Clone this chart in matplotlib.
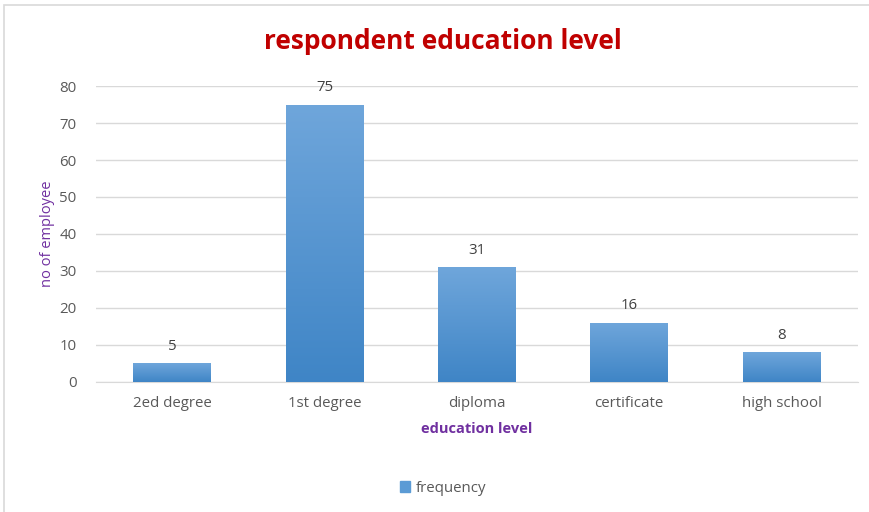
import numpy as np
import matplotlib.pyplot as plt
from matplotlib.patches import Rectangle
from matplotlib.colors import LinearSegmentedColormap

# data
categories = ["2ed degree", "1st degree", "diploma", "certificate", "high school"]
frequency = [5, 75, 31, 16, 8]
yticks = [0, 10, 20, 30, 40, 50, 60, 70, 80]

plt.rcParams['font.family'] = ['Open Sans', 'DejaVu Sans']

fig = plt.figure(figsize=(8.69, 5.12), dpi=100)
ax = fig.add_axes([0.1105, 0.254, 0.8765, 0.578])

x = np.arange(len(categories))
bars = ax.bar(x, frequency, width=0.51, color="#5B9BD5", zorder=2)

# vertical gradient on each bar (lighter on top, like Excel)
grad = np.linspace(0, 1, 256).reshape(-1, 1)
cmap = LinearSegmentedColormap.from_list("blu", ["#3F85C6", "#6FA6DB"])
for b in bars:
    bx, by = b.get_x(), b.get_y()
    w, h = b.get_width(), b.get_height()
    im = ax.imshow(grad, cmap=cmap, aspect="auto", origin="lower",
                   extent=[bx, bx + w, by, by + h], zorder=3)
    im.set_clip_path(b)
    ax.text(b.get_x() + w / 2, h + 2.6, str(int(h)), ha="center", va="bottom",
            fontsize=10.8, color="#404040", zorder=4)

ax.set_xlim(-0.5, len(categories) - 0.5)
ax.set_ylim(0, 80)
ax.set_yticks(yticks)
ax.set_xticks(x)
ax.set_xticklabels(categories)
ax.tick_params(axis="both", length=0, colors="#595959", labelsize=10.8)
ax.tick_params(axis="x", pad=10)
ax.tick_params(axis="y", pad=14)
ax.grid(axis="y", color="#D9D9D9", linewidth=1, zorder=0)
for s in ["top", "right", "left"]:
    ax.spines[s].set_visible(False)
ax.spines["bottom"].set_color("#D9D9D9")
ax.spines["bottom"].set_zorder(1)

ax.set_ylabel("no of employee", color="#7030A0", fontsize=10.5, labelpad=3)
ax.set_xlabel("education level", color="#7030A0", fontsize=10.5,
              fontweight="bold", labelpad=8)

fig.text(0.51, 0.918, "respondent education level", ha="center", va="center",
         fontsize=19, fontweight="bold", color="#C00000")

# legend at the bottom
fig.legend([Rectangle((0, 0), 1, 1, color="#5B9BD5")], ["frequency"],
           loc="center", bbox_to_anchor=(0.51, 0.046), frameon=False,
           fontsize=10.8, labelcolor="#595959", handlelength=0.7,
           handleheight=0.7, handletextpad=0.4)

# chart frame
fig.patches.append(Rectangle((0.005, -0.01), 1.0, 1.0, transform=fig.transFigure,
                             fill=False, edgecolor="#D9D9D9", linewidth=1.2))

fig.savefig("out.png", dpi=100)
